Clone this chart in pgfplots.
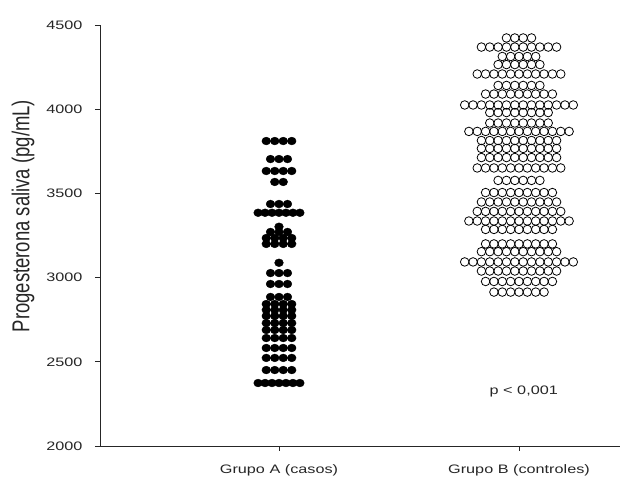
\documentclass[border=0pt]{standalone}
\usepackage{graphicx}
\usepackage{fontspec}
\setmainfont{Liberation Sans}[FakeStretch=1.32]
\newfontfamily\ylabfont{Liberation Sans}
\usepackage{pgfplots}
\pgfplotsset{compat=1.18}
\begin{document}
\begin{tikzpicture}
\begin{axis}[
  scale only axis, width=520pt, height=421pt,
  xmin=0.2542, xmax=2.4208, ymin=2000, ymax=4500,
  axis lines*=left,
  axis line style={line width=0.9pt, black!85},
  tick style={line width=0.9pt, black!85},
  tick align=outside, major tick length=5pt,
  xtick={1,2}, xticklabels={Grupo A (casos), Grupo B (controles)},
  ytick={2000,2500,3000,3500,4000,4500},
  minor tick num=0,
  /pgf/number format/assume math mode=true,
  /pgf/number format/1000 sep={},
  ticklabel style={font=\fontsize{12.3}{14}\selectfont, text=black!85},
  yticklabel style={xshift=-9pt},
  xticklabel style={yshift=-10pt},
  ylabel={\scalebox{1}[1.32]{Progesterona saliva (pg/mL)}},
  ylabel style={at={(axis description cs:-0.148,0.546)}, anchor=center, font=\ylabfont\fontsize{18.5}{20}\selectfont, text=black!85},
  clip=false,
]
% Grupo A (casos)
\addplot[only marks, mark=*, mark size=3.9pt, mark options={fill=black, draw=black, xscale=1.12}] coordinates {
(0.9469,3811)(0.9823,3811)(1.0177,3811)(1.0531,3811)
(0.9646,3704)(1,3704)(1.0354,3704)
(0.9469,3633)(0.9823,3633)(1.0177,3633)(1.0531,3633)
(0.9823,3568)(1.0177,3568)
(0.9646,3437)(1,3437)(1.0354,3437)
(0.913,3385)(0.942,3385)(0.971,3385)(1,3385)(1.029,3385)(1.058,3385)(1.087,3385)
(1,3302)
(0.9646,3271)(1,3271)(1.0354,3271)
(0.9469,3235)(0.9823,3235)(1.0177,3235)(1.0531,3235)
(0.9469,3200)(0.9823,3200)(1.0177,3200)(1.0531,3200)
(1,3088)
(0.9646,3027)(1,3027)(1.0354,3027)
(0.9646,2962)(1,2962)(1.0354,2962)
(0.9646,2885)(1,2885)(1.0354,2885)
(0.9469,2843)(0.9823,2843)(1.0177,2843)(1.0531,2843)
(0.9469,2808)(0.9823,2808)(1.0177,2808)(1.0531,2808)
(0.9469,2772)(0.9823,2772)(1.0177,2772)(1.0531,2772)
(0.9469,2730)(0.9823,2730)(1.0177,2730)(1.0531,2730)
(0.9469,2689)(0.9823,2689)(1.0177,2689)(1.0531,2689)
(0.9469,2641)(0.9823,2641)(1.0177,2641)(1.0531,2641)
(0.9469,2582)(0.9823,2582)(1.0177,2582)(1.0531,2582)
(0.9469,2523)(0.9823,2523)(1.0177,2523)(1.0531,2523)
(0.9469,2451)(0.9823,2451)(1.0177,2451)(1.0531,2451)
(0.913,2374)(0.942,2374)(0.971,2374)(1,2374)(1.029,2374)(1.058,2374)(1.087,2374)
};
% Grupo B (controles)
\addplot[only marks, mark=o, mark size=4.3pt, mark options={draw=black, line width=0.8pt}] coordinates {
(1.9478,4423)(1.9826,4423)(2.0174,4423)(2.0522,4423)
(1.8434,4369)(1.8782,4369)(1.9130,4369)(1.9478,4369)(1.9826,4369)(2.0174,4369)(2.0522,4369)(2.0870,4369)(2.1218,4369)(2.1566,4369)
(1.9304,4313)(1.9652,4313)(2,4313)(2.0348,4313)(2.0696,4313)
(1.9130,4265)(1.9478,4265)(1.9826,4265)(2.0174,4265)(2.0522,4265)(2.0870,4265)
(1.8260,4209)(1.8608,4209)(1.8956,4209)(1.9304,4209)(1.9652,4209)(2,4209)(2.0348,4209)(2.0696,4209)(2.1044,4209)(2.1392,4209)(2.1740,4209)
(1.9130,4141)(1.9478,4141)(1.9826,4141)(2.0174,4141)(2.0522,4141)(2.0870,4141)
(1.8608,4090)(1.8956,4090)(1.9304,4090)(1.9652,4090)(2,4090)(2.0348,4090)(2.0696,4090)(2.1044,4090)(2.1392,4090)
(1.7738,4025)(1.8086,4025)(1.8434,4025)(1.8782,4025)(1.9130,4025)(1.9478,4025)(1.9826,4025)(2.0174,4025)(2.0522,4025)(2.0870,4025)(2.1218,4025)(2.1566,4025)(2.1914,4025)(2.2262,4025)
(1.8782,3980)(1.9130,3980)(1.9478,3980)(1.9826,3980)(2.0174,3980)(2.0522,3980)(2.0870,3980)(2.1218,3980)
(1.8782,3918)(1.9130,3918)(1.9478,3918)(1.9826,3918)(2.0174,3918)(2.0522,3918)(2.0870,3918)(2.1218,3918)
(1.7912,3868)(1.8260,3868)(1.8608,3868)(1.8956,3868)(1.9304,3868)(1.9652,3868)(2,3868)(2.0348,3868)(2.0696,3868)(2.1044,3868)(2.1392,3868)(2.1740,3868)(2.2088,3868)
(1.8434,3814)(1.8782,3814)(1.9130,3814)(1.9478,3814)(1.9826,3814)(2.0174,3814)(2.0522,3814)(2.0870,3814)(2.1218,3814)(2.1566,3814)
(1.8434,3767)(1.8782,3767)(1.9130,3767)(1.9478,3767)(1.9826,3767)(2.0174,3767)(2.0522,3767)(2.0870,3767)(2.1218,3767)(2.1566,3767)
(1.8434,3713)(1.8782,3713)(1.9130,3713)(1.9478,3713)(1.9826,3713)(2.0174,3713)(2.0522,3713)(2.0870,3713)(2.1218,3713)(2.1566,3713)
(1.8260,3651)(1.8608,3651)(1.8956,3651)(1.9304,3651)(1.9652,3651)(2,3651)(2.0348,3651)(2.0696,3651)(2.1044,3651)(2.1392,3651)(2.1740,3651)
(1.9130,3577)(1.9478,3577)(1.9826,3577)(2.0174,3577)(2.0522,3577)(2.0870,3577)
(1.8608,3505)(1.8956,3505)(1.9304,3505)(1.9652,3505)(2,3505)(2.0348,3505)(2.0696,3505)(2.1044,3505)(2.1392,3505)
(1.8434,3449)(1.8782,3449)(1.9130,3449)(1.9478,3449)(1.9826,3449)(2.0174,3449)(2.0522,3449)(2.0870,3449)(2.1218,3449)(2.1566,3449)
(1.8260,3393)(1.8608,3393)(1.8956,3393)(1.9304,3393)(1.9652,3393)(2,3393)(2.0348,3393)(2.0696,3393)(2.1044,3393)(2.1392,3393)(2.1740,3393)
(1.7912,3336)(1.8260,3336)(1.8608,3336)(1.8956,3336)(1.9304,3336)(1.9652,3336)(2,3336)(2.0348,3336)(2.0696,3336)(2.1044,3336)(2.1392,3336)(2.1740,3336)(2.2088,3336)
(1.8608,3286)(1.8956,3286)(1.9304,3286)(1.9652,3286)(2,3286)(2.0348,3286)(2.0696,3286)(2.1044,3286)(2.1392,3286)
(1.8608,3200)(1.8956,3200)(1.9304,3200)(1.9652,3200)(2,3200)(2.0348,3200)(2.0696,3200)(2.1044,3200)(2.1392,3200)
(1.8434,3154)(1.8782,3154)(1.9130,3154)(1.9478,3154)(1.9826,3154)(2.0174,3154)(2.0522,3154)(2.0870,3154)(2.1218,3154)(2.1566,3154)
(1.7738,3093)(1.8086,3093)(1.8434,3093)(1.8782,3093)(1.9130,3093)(1.9478,3093)(1.9826,3093)(2.0174,3093)(2.0522,3093)(2.0870,3093)(2.1218,3093)(2.1566,3093)(2.1914,3093)(2.2262,3093)
(1.8434,3039)(1.8782,3039)(1.9130,3039)(1.9478,3039)(1.9826,3039)(2.0174,3039)(2.0522,3039)(2.0870,3039)(2.1218,3039)(2.1566,3039)
(1.8608,2977)(1.8956,2977)(1.9304,2977)(1.9652,2977)(2,2977)(2.0348,2977)(2.0696,2977)(2.1044,2977)(2.1392,2977)
(1.8956,2914)(1.9304,2914)(1.9652,2914)(2,2914)(2.0348,2914)(2.0696,2914)(2.1044,2914)
};
\node[font=\fontsize{12.3}{14}\selectfont, text=black!85] at (axis cs:2.02,2321) {p \textless{} 0,001};
\end{axis}
\pgfresetboundingbox
\useasboundingbox (-100pt,-33pt) rectangle (525pt,446pt);
\end{tikzpicture}
\end{document}
